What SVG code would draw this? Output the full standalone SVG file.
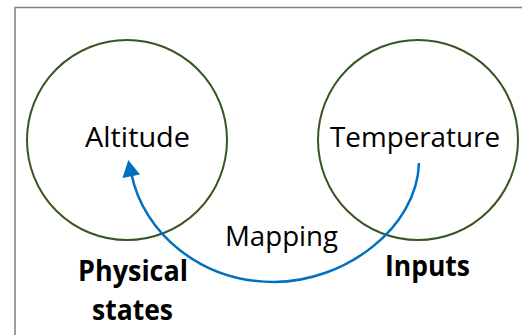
<svg xmlns="http://www.w3.org/2000/svg" width="522" height="335" viewBox="0 0 522 335">
<defs>
<style>
.node{fill:none;stroke:#375623;stroke-width:2}
.lbl{font-family:"Open Sans","Liberation Sans",sans-serif;font-size:28px;fill:#000;text-anchor:middle}
.b{font-weight:bold}
.conn{fill:none;stroke:#0070C0;stroke-width:2.5}
.head{fill:#0070C0}
</style>
</defs>
<rect x="0" y="0" width="522" height="335" fill="#fff"/>
<rect x="15" y="7.5" width="520" height="340" fill="none" stroke="#808080" stroke-width="1.5"/>
<g id="altitude">
<circle class="node" cx="127" cy="140" r="100"/>
<text class="lbl" x="137.5" y="147" textLength="105" lengthAdjust="spacingAndGlyphs">Altitude</text>
</g>
<g id="temperature">
<circle class="node" cx="418" cy="140" r="100"/>
<text class="lbl" x="415" y="147" textLength="170" lengthAdjust="spacingAndGlyphs">Temperature</text>
</g>
<g id="physical">
<text class="lbl b" x="133" y="281" textLength="110" lengthAdjust="spacingAndGlyphs">Physical</text>
<text class="lbl b" x="132.5" y="320" textLength="81" lengthAdjust="spacingAndGlyphs">states</text>
</g>
<g id="inputs">
<text class="lbl b" x="427.5" y="276" textLength="85" lengthAdjust="spacingAndGlyphs">Inputs</text>
</g>
<g id="connectors">
<path class="conn" d="M419,163 C417,228 345,282 274,282 C200,282 143,232 131.5,174"/>
<path class="head" d="M128.3,160 L140,174.5 L122.5,178 z"/>
<text class="lbl" x="281.5" y="246" textLength="113" lengthAdjust="spacingAndGlyphs">Mapping</text>
</g>
</svg>
